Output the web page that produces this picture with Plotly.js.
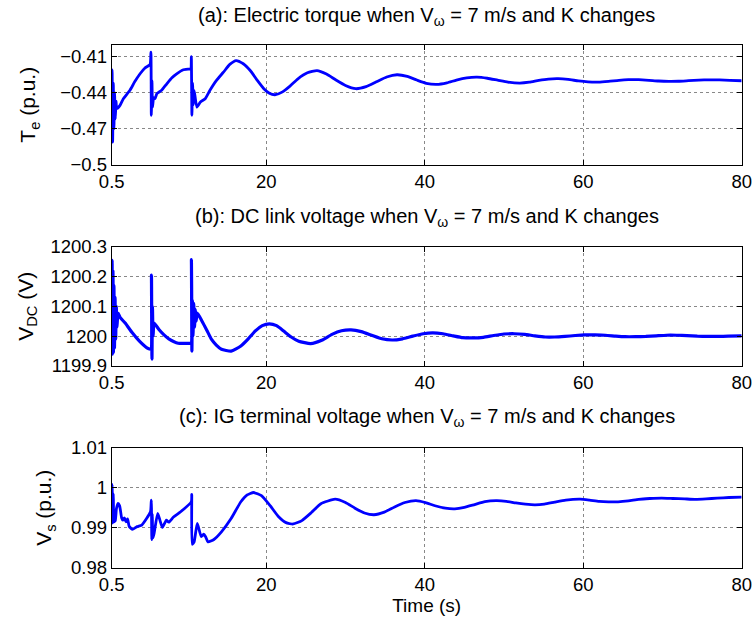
<!DOCTYPE html>
<html>
<head>
<meta charset="utf-8">
<script src="https://cdn.plot.ly/plotly-3.0.1.min.js"></script>
<style>html,body{margin:0;padding:0;background:#fff;}#chart{width:754px;height:621px;}</style>
</head>
<body>
<div id="chart"></div>
<script>
// ---- Data ----
const xTickVals = [0.5, 20, 40, 60, 80];
const xTickText = ["0.5", "20", "40", "60", "80"];

// (a) Electric torque
const timeA = [0.5,0.55,0.62,0.7,0.78,0.86,0.95,1.05,1.13,1.55,1.97,2.8,3.4,4.08,4.7,5.34,5.45,5.5,5.58,5.65,5.8,5.97,6.2,6.8,7.45,8.1,8.7,9.55,10.4,10.5,10.55,10.62,10.7,10.8,10.9,11.25,11.7,12.3,12.9,13.7,14.6,15.4,16.2,17.1,17.98,18.9,19.7,20.4,21.1,22.0,23.0,24.0,25.2,26.4,27.6,28.8,30.0,31.3,32.6,33.9,35.2,36.5,37.8,39.0,40.2,41.5,42.8,44.0,45.3,46.6,47.9,49.2,50.5,52.0,53.2,54.4,55.6,56.85,58.1,59.4,60.6,61.9,63.2,64.5,65.7,67.0,68.3,69.5,70.8,72.0,73.3,74.6,75.9,77.2,78.5,80];
const torqueA = [-0.4293,-0.421,-0.481,-0.432,-0.47,-0.44,-0.462,-0.447,-0.4532,-0.4505,-0.445,-0.438,-0.431,-0.4243,-0.4195,-0.4166,-0.4064,-0.4587,-0.43,-0.452,-0.444,-0.445,-0.4408,-0.438,-0.4326,-0.4275,-0.4243,-0.421,-0.4202,-0.4202,-0.41,-0.4587,-0.432,-0.45,-0.438,-0.4519,-0.4477,-0.445,-0.438,-0.430,-0.423,-0.4165,-0.4133,-0.416,-0.4216,-0.430,-0.4367,-0.4405,-0.4417,-0.4395,-0.4345,-0.4285,-0.4235,-0.4216,-0.4245,-0.4295,-0.434,-0.4367,-0.435,-0.431,-0.427,-0.4251,-0.4265,-0.4295,-0.4322,-0.4331,-0.4318,-0.4295,-0.4277,-0.4271,-0.428,-0.4296,-0.4312,-0.432,-0.4313,-0.4298,-0.4287,-0.4284,-0.429,-0.4302,-0.431,-0.4312,-0.4306,-0.4297,-0.4292,-0.4292,-0.4297,-0.4303,-0.4306,-0.4305,-0.43,-0.4295,-0.4293,-0.4294,-0.4298,-0.4301];
const yTickValsA = [-0.5, -0.47, -0.44, -0.41];
const yTickTextA = ["\u22120.5", "\u22120.47", "\u22120.44", "\u22120.41"];

// (b) DC link voltage
const timeB = [0.5,0.55,0.6,0.66,0.72,0.78,0.85,0.92,1.0,1.08,1.16,1.3,1.6,2.2,3.1,4.0,4.94,5.4,5.47,5.52,5.58,5.64,5.72,5.85,6.46,7.1,7.7,8.9,10.4,10.52,10.56,10.62,10.68,10.76,10.85,10.95,11.05,11.15,11.3,11.9,12.5,13.1,13.7,14.35,15.57,16.8,17.7,18.6,19.5,20.4,21.3,22.2,23.1,24.1,25.6,27.0,28.3,29.5,30.7,32.0,33.3,34.6,35.9,37.2,38.5,39.8,41.0,42.3,43.6,44.8,46.1,47.4,48.7,50.0,51.3,52.6,53.9,55.2,56.4,57.7,59.0,60.2,61.5,62.8,64.1,65.3,66.6,67.9,69.2,70.5,71.8,73.1,74.4,75.7,77.0,78.3,80.0];
const vdcB = [1200.0,1200.254,1199.94,1200.22,1199.945,1200.17,1199.96,1200.13,1199.99,1200.1,1200.03,1200.077,1200.061,1200.044,1200.011,1199.983,1199.961,1199.956,1199.956,1200.204,1199.923,1200.1,1200.0,1200.044,1200.022,1200.004,1199.991,1199.976,1199.976,1199.976,1200.256,1199.95,1200.12,1200.0,1200.11,1200.03,1200.09,1200.05,1200.077,1200.05,1200.02,1199.989,1199.97,1199.956,1199.95,1199.967,1199.99,1200.017,1200.035,1200.041,1200.035,1200.017,1199.998,1199.983,1199.975,1199.986,1200.006,1200.018,1200.021,1200.015,1200.003,1199.991,1199.987,1199.991,1200.0,1200.008,1200.011,1200.008,1200.001,1199.995,1199.994,1199.996,1200.002,1200.007,1200.008,1200.006,1200.001,1199.997,1199.997,1199.999,1200.002,1200.004,1200.004,1200.003,1200.0,1199.998,1199.998,1199.999,1200.001,1200.003,1200.003,1200.002,1200.0,1199.999,1199.999,1200.0,1200.001];
const yTickValsB = [1199.9, 1200, 1200.1, 1200.2, 1200.3];
const yTickTextB = ["1199.9", "1200", "1200.1", "1200.2", "1200.3"];

// (c) IG terminal voltage
const timeC = [0.5,0.55,0.62,0.7,0.8,0.95,1.1,1.3,1.5,1.75,1.9,2.1,2.3,2.5,2.7,3.1,3.7,4.3,4.9,5.4,5.5,5.56,5.62,5.7,5.85,6.3,6.6,6.9,7.4,7.7,8.3,9.2,10.55,10.6,10.66,10.9,11.3,11.8,12.1,12.35,12.65,13.4,14.35,15.57,16.8,17.6,18.4,19.4,20.5,21.5,22.5,23.4,24.5,25.7,26.9,28.7,30.0,31.2,32.4,33.6,34.9,36.2,37.5,38.9,40.1,41.3,42.6,43.8,45.0,46.3,47.6,49.0,50.3,51.5,52.7,53.9,55.1,56.4,57.8,59.6,60.8,62.0,63.2,64.4,65.7,67.0,68.4,69.9,71.3,72.8,74.1,75.5,76.9,78.4,80];
const vsC = [0.999,1.0008,0.9912,0.9985,0.9915,0.9918,0.9948,0.9961,0.9955,0.9925,0.9919,0.9925,0.9915,0.9922,0.9904,0.9896,0.9903,0.9907,0.9923,0.994,0.9969,0.9871,0.9935,0.9875,0.9886,0.9936,0.9918,0.9901,0.9919,0.9914,0.9927,0.994,0.9965,0.9983,0.9859,0.9865,0.9911,0.9878,0.9884,0.9878,0.9865,0.9871,0.989,0.9923,0.9965,0.9982,0.9988,0.998,0.9955,0.9929,0.9913,0.99096,0.9918,0.9938,0.996,0.99713,0.9963,0.9949,0.9937,0.99326,0.9939,0.9952,0.9963,0.99679,0.9963,0.9955,0.9949,0.99474,0.9951,0.9958,0.9965,0.99675,0.9966,0.9962,0.9959,0.99574,0.9959,0.9964,0.9969,0.99713,0.9969,0.9966,0.99648,0.99647,0.9967,0.9971,0.9973,0.9974,0.9973,0.9972,0.9971,0.9972,0.9974,0.99755,0.99763];
const yTickValsC = [0.98, 0.99, 1, 1.01];
const yTickTextC = ["0.98", "0.99", "1", "1.01"];

const titles = [
  "(a): Electric torque when V<sub>\u03c9</sub> = 7 m/s and K changes",
  "(b): DC link voltage when V<sub>\u03c9</sub> = 7 m/s and K changes",
  "(c): IG terminal voltage when V<sub>\u03c9</sub> = 7 m/s and K changes"
];
const yTitles = ["T<sub>e</sub> (p.u.)", "V<sub>DC</sub> (V)", "V<sub>s</sub> (p.u.)"];

// ---- Styling ----
const FONT = "Liberation Sans, Arial, Helvetica, sans-serif";
const W = 754, H = 621;
const xDom = [111.7 / W, 741.7 / W];
const yDoms = [[1 - 165 / H, 1 - 44.5 / H], [1 - 366 / H, 1 - 246.5 / H], [1 - 568 / H, 1 - 447.5 / H]];
const titleY = [16, 217, 417];
const TICK = 18.5;
const standoffs = [18, 11, 13];

const traces = [
  {x: timeA, y: torqueA, xaxis: "x", yaxis: "y", type: "scatter", mode: "lines", line: {color: "rgb(0,0,255)", width: 2.8, shape: "spline", smoothing: 0.5}, hoverinfo: "x+y"},
  {x: timeB, y: vdcB, xaxis: "x2", yaxis: "y2", type: "scatter", mode: "lines", line: {color: "rgb(0,0,255)", width: 3.2, shape: "spline", smoothing: 0.5}, hoverinfo: "x+y"},
  {x: timeC, y: vsC, xaxis: "x3", yaxis: "y3", type: "scatter", mode: "lines", line: {color: "rgb(0,0,255)", width: 2.8, shape: "spline", smoothing: 0.5}, hoverinfo: "x+y"}
];

function xAxis(anchor, showTitle) {
  const ax = {
    domain: xDom, anchor: anchor, range: [0.5, 80], tickmode: "array",
    tickvals: xTickVals, ticktext: xTickText,
    showline: true, linecolor: "#000", linewidth: 1, mirror: "ticks",
    ticks: "inside", ticklen: 5, tickcolor: "#000",
    showgrid: true, gridcolor: "#888", griddash: "dot", gridwidth: 1,
    zeroline: false, tickfont: {family: FONT, size: TICK, color: "#000"}
  };
  if (showTitle) ax.title = {text: "Time (s)", font: {family: FONT, size: 19, color: "#000"}, standoff: 1};
  return ax;
}
function yAxis(anchor, dom, range, vals, text, title, standoff) {
  return {
    domain: dom, anchor: anchor, range: range, tickmode: "array",
    tickvals: vals, ticktext: text,
    showline: true, linecolor: "#000", linewidth: 1, mirror: "ticks",
    ticks: "inside", ticklen: 5, tickcolor: "#000",
    showgrid: true, gridcolor: "#888", griddash: "dot", gridwidth: 1,
    zeroline: false, tickfont: {family: FONT, size: TICK, color: "#000"},
    title: {text: title, font: {family: FONT, size: 21, color: "#000"}, standoff: standoff}
  };
}

const layout = {
  width: W, height: H, paper_bgcolor: "#fff", plot_bgcolor: "#fff",
  margin: {l: 0, r: 0, t: 0, b: 0}, showlegend: false,
  font: {family: FONT, color: "#000"},
  xaxis: xAxis("y", false),
  xaxis2: xAxis("y2", false),
  xaxis3: xAxis("y3", true),
  yaxis: yAxis("x", yDoms[0], [-0.5, -0.4], yTickValsA, yTickTextA, yTitles[0], standoffs[0]),
  yaxis2: yAxis("x2", yDoms[1], [1199.9, 1200.3], yTickValsB, yTickTextB, yTitles[1], standoffs[1]),
  yaxis3: yAxis("x3", yDoms[2], [0.98, 1.01], yTickValsC, yTickTextC, yTitles[2], standoffs[2]),
  annotations: titles.map((t, i) => ({
    text: t, xref: "paper", yref: "paper", x: (xDom[0] + xDom[1]) / 2, y: 1 - titleY[i] / H,
    xanchor: "center", yanchor: "middle", showarrow: false,
    font: {family: FONT, size: 20, color: "#000"}
  }))
};

Plotly.newPlot("chart", traces, layout, {displayModeBar: false, staticPlot: true});
</script>
</body>
</html>
